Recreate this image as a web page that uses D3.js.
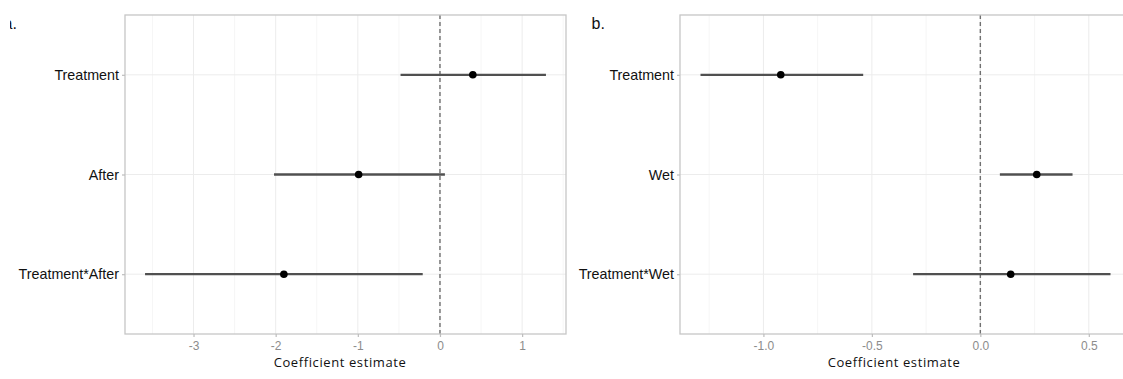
<!DOCTYPE html>
<html>
<head>
<meta charset="utf-8">
<script src="https://cdn.jsdelivr.net/npm/d3@7"></script>
<style>
  html, body { margin: 0; padding: 0; background: #fff; }
  svg { display: block; }
  .tick text { font-family: "Liberation Sans", Arial, sans-serif; }
</style>
</head>
<body>
<div id="chart"></div>
<script>
// panel a: Treatment / After
const termsA = ["Treatment", "After", "Treatment*After"];
const estA = [0.40, -0.99, -1.90];
const lowA = [-0.48, -2.02, -3.59];
const highA = [1.29, 0.06, -0.21];
const ticksA = [-3, -2, -1, 0, 1];

// panel b: Treatment / Wet
const termsB = ["Treatment", "Wet", "Treatment*Wet"];
const estB = [-0.92, 0.26, 0.14];
const lowB = [-1.29, 0.09, -0.31];
const highB = [-0.54, 0.425, 0.60];
const ticksB = [-1.0, -0.5, 0.0, 0.5];

const panelLabels = ["a.", "b."];
const axisTitle = "Coefficient estimate";

const W = 1123, H = 379;
const plotTop = 15, plotBottom = 334;

const svg = d3.select("#chart").append("svg")
    .attr("width", W)
    .attr("height", H);

// the reference is cropped on the left, only part of "a." shows
svg.append("clipPath").attr("id", "crop")
    .append("rect").attr("x", 10).attr("y", 0).attr("width", W).attr("height", H);

function drawPanel(opts) {
    const { terms, est, low, high, ticks, fmt, x0, x1, label, labelX, titleX } = opts;

    // ggplot style 5% expansion
    const lo = d3.min(low), hi = d3.max(high);
    const pad = (hi - lo) * 0.05;
    const x = d3.scaleLinear().domain([lo - pad, hi + pad]).range([x0, x1]);
    const y = d3.scalePoint().domain(terms).range([plotTop, plotBottom]).padding(0.6);

    const g = svg.append("g");

    // minor grid
    const step = ticks[1] - ticks[0];
    const minor = [ticks[0] - step / 2].concat(ticks.map(t => t + step / 2))
        .filter(v => v > x.domain()[0] && v < x.domain()[1]);
    g.append("g").selectAll("line").data(minor).enter().append("line")
        .attr("x1", d => x(d)).attr("x2", d => x(d))
        .attr("y1", plotTop).attr("y2", plotBottom)
        .attr("stroke", "#f4f4f4").attr("stroke-width", 0.8);

    // major grid
    g.append("g").selectAll("line").data(ticks).enter().append("line")
        .attr("x1", d => x(d)).attr("x2", d => x(d))
        .attr("y1", plotTop).attr("y2", plotBottom)
        .attr("stroke", "#ececec").attr("stroke-width", 1);
    g.append("g").selectAll("line").data(terms).enter().append("line")
        .attr("x1", x0).attr("x2", x1)
        .attr("y1", d => y(d)).attr("y2", d => y(d))
        .attr("stroke", "#ececec").attr("stroke-width", 1);

    // zero line
    g.append("line")
        .attr("x1", x(0)).attr("x2", x(0))
        .attr("y1", plotTop).attr("y2", plotBottom)
        .attr("stroke", "#707070").attr("stroke-width", 1.4)
        .attr("stroke-dasharray", "4,3");

    // confidence intervals
    g.append("g").selectAll("line").data(terms).enter().append("line")
        .attr("x1", (d, i) => x(low[i])).attr("x2", (d, i) => x(high[i]))
        .attr("y1", d => y(d)).attr("y2", d => y(d))
        .attr("stroke", "#505050").attr("stroke-width", 2.3);

    // estimates
    g.append("g").selectAll("circle").data(terms).enter().append("circle")
        .attr("cx", (d, i) => x(est[i])).attr("cy", d => y(d))
        .attr("r", 3.8).attr("fill", "#000");

    // panel border
    g.append("rect")
        .attr("x", x0).attr("y", plotTop)
        .attr("width", x1 - x0).attr("height", plotBottom - plotTop)
        .attr("fill", "none").attr("stroke", "#c6c6c6").attr("stroke-width", 1.3);

    // axes
    const xAxis = g.append("g")
        .attr("transform", `translate(0,${plotBottom})`)
        .call(d3.axisBottom(x).tickValues(ticks).tickFormat(fmt).tickSize(3).tickPadding(4));
    xAxis.select(".domain").remove();
    xAxis.selectAll(".tick line").attr("stroke", "#bdbdbd").attr("stroke-width", 1.2);
    xAxis.selectAll(".tick text").attr("fill", "#8c8c8c").style("font-size", "12px");

    const yAxis = g.append("g")
        .attr("transform", `translate(${x0},0)`)
        .call(d3.axisLeft(y).tickSize(3).tickPadding(3));
    yAxis.select(".domain").remove();
    yAxis.selectAll(".tick line").attr("stroke", "#bdbdbd").attr("stroke-width", 1.2);
    yAxis.selectAll(".tick text").attr("fill", "#111").style("font-size", "14.3px");

    // axis title
    g.append("text")
        .attr("x", titleX).attr("y", 367)
        .attr("text-anchor", "middle")
        .style("font-family", "'Open Sans', 'Noto Sans', sans-serif")
        .style("font-size", "13px")
        .style("letter-spacing", "0.6px")
        .attr("fill", "#111")
        .text(axisTitle);

    // panel tag
    svg.append("text")
        .attr("x", labelX).attr("y", 28.5)
        .attr("clip-path", "url(#crop)")
        .style("font-family", "'Liberation Sans', Arial, sans-serif")
        .style("font-size", "16px")
        .attr("fill", "#111")
        .text(label);
}

drawPanel({
    terms: termsA, est: estA, low: lowA, high: highA, ticks: ticksA,
    fmt: d => String(d).replace("\u2212", "-"),
    x0: 125, x1: 566, label: panelLabels[0], labelX: 3.5, titleX: 340
});

drawPanel({
    terms: termsB, est: estB, low: lowB, high: highB, ticks: ticksB,
    fmt: d => d.toFixed(1),
    x0: 680, x1: 1131, label: panelLabels[1], labelX: 591.5, titleX: 894
});
</script>
</body>
</html>
